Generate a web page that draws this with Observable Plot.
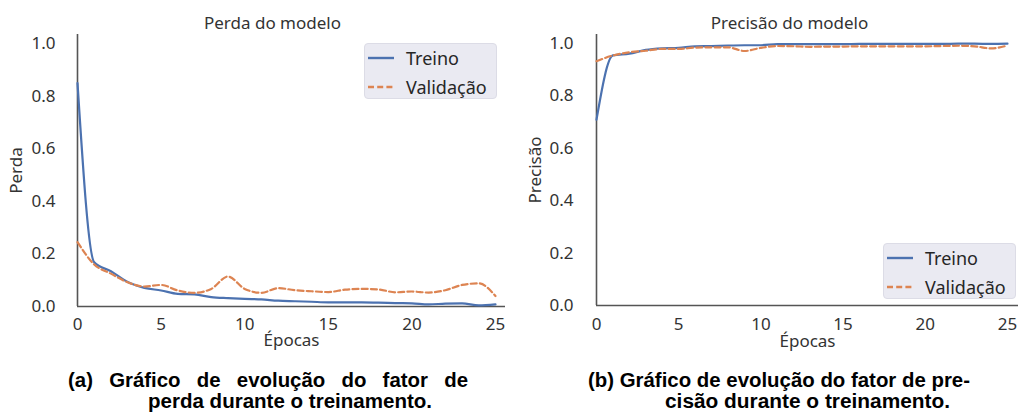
<!DOCTYPE html>
<html><head><meta charset="utf-8">
<script src="https://cdn.jsdelivr.net/npm/d3@7"></script>
<script src="https://cdn.jsdelivr.net/npm/@observablehq/plot@0.6"></script>
<style>
body{margin:0;background:#fff;}
#wrap{position:relative;width:1019px;height:412px;overflow:hidden;font-family:"Noto Sans",sans-serif;}
.panel{position:absolute;top:0;}
.legend{position:absolute;background:#eaeaf2;border:1px solid #dcdce6;border-radius:4px;box-sizing:border-box;width:133px;height:56px;}
.legend .row{position:absolute;left:3px;height:24px;display:flex;align-items:center;font-size:18px;color:#262626;}
.legend .row svg{margin-right:12px;}
#cap{position:absolute;left:0;top:0;}
</style></head>
<body><div id="wrap"></div>
<script>
// ---- data ----
const epochs = [0,1,2,3,4,5,6,7,8,9,10,11,12,13,14,15,16,17,18,19,20,21,22,23,24,25];
const lossTrain = [0.85,0.168,0.134,0.093,0.071,0.061,0.048,0.046,0.036,0.032,0.029,0.027,0.022,0.020,0.018,0.016,0.016,0.016,0.015,0.013,0.012,0.008,0.011,0.012,0.004,0.008];
const lossVal   = [0.245,0.160,0.125,0.092,0.076,0.082,0.061,0.052,0.067,0.114,0.067,0.052,0.070,0.062,0.058,0.055,0.064,0.067,0.065,0.054,0.057,0.053,0.062,0.082,0.088,0.040];
const accTrain  = [0.71,0.955,0.962,0.976,0.982,0.984,0.990,0.991,0.993,0.994,0.994,0.998,0.998,0.998,0.998,0.998,0.999,0.999,0.999,0.999,0.999,0.999,1.0,1.0,0.999,1.0];
const accVal    = [0.933,0.955,0.967,0.973,0.980,0.980,0.985,0.986,0.986,0.972,0.984,0.991,0.990,0.988,0.989,0.989,0.990,0.990,0.990,0.990,0.990,0.991,0.992,0.990,0.982,0.993];
const xTicks = [0,5,10,15,20,25];
const yTicks = [0,0.2,0.4,0.6,0.8,1.0];
const seriesNames = ["Treino","Validação"];
const titles = ["Perda do modelo","Precisão do modelo"];
const yLabels = ["Perda","Precisão"];
const xLabel = "Épocas";
const captions = [
  ["(a) Gráfico de evolução do fator de","perda durante o treinamento."],
  ["(b) Gráfico de evolução do fator de pre-","cisão durante o treinamento."]
];

const BLUE = "#4c72b0", ORANGE = "#dd8452";

function chart({title, ylabel, train, val, width, marginLeft, marginRight, marginBottom, xmax, tickPadX, tickPadY, titleDx, xLabelOffset}) {
  const rows = t => epochs.map((e,i)=>({e, v:t[i]}));
  return Plot.plot({
    width, height:360, marginLeft, marginRight, marginTop:34, marginBottom,
    style:{fontFamily:"Noto Sans", fontSize:"17px", color:"#333", background:"transparent", overflow:"visible"},
    x:{domain:[0,xmax]},
    y:{domain:[0,1.035]},
    marks:[
      Plot.axisX({ticks:xTicks, tickSize:0, tickPadding:tickPadX, tickFormat:d=>String(d), label:xLabel, labelAnchor:"center", labelArrow:"none", labelOffset:xLabelOffset, fontSize:17}),
      Plot.axisY({ticks:yTicks, tickSize:0, tickPadding:tickPadY, tickFormat:d=>d.toFixed(1), label:ylabel, labelAnchor:"center", labelArrow:"none", labelOffset:68, fontSize:17}),
      Plot.ruleX([0], {stroke:"#555", strokeWidth:1.6}),
      Plot.ruleY([0], {stroke:"#555", strokeWidth:1.6}),
      Plot.line(rows(train), {x:"e", y:"v", stroke:BLUE, strokeWidth:2.2, curve:"monotone-x"}),
      Plot.line(rows(val), {x:"e", y:"v", stroke:ORANGE, strokeWidth:2.2, strokeDasharray:"6,3.2", curve:"monotone-x"}),
      Plot.text([title], {text:d=>d, frameAnchor:"top", lineAnchor:"middle", dy:-11, dx:titleDx, fontSize:17, fill:"#333"})
    ]
  });
}

const wrap = document.getElementById("wrap");
const c1 = chart({title:titles[0], ylabel:yLabels[0], train:lossTrain, val:lossVal, width:510, marginLeft:77, marginRight:5, marginBottom:54, xmax:25.6, tickPadX:11, tickPadY:22, titleDx:-19, xLabelOffset:39});
c1.classList.add("panel"); c1.style.left = "0px";
wrap.appendChild(c1);
const c2 = chart({title:titles[1], ylabel:yLabels[1], train:accTrain, val:accVal, width:509, marginLeft:86, marginRight:1, marginBottom:55, xmax:25.67, tickPadX:12, tickPadY:23, titleDx:-18, xLabelOffset:41});
c2.classList.add("panel"); c2.style.left = "510px";
wrap.appendChild(c2);

function legend(left, top) {
  const d = document.createElement("div");
  d.className = "legend";
  d.style.left = left+"px"; d.style.top = top+"px";
  seriesNames.forEach((name,i)=>{
    const r = document.createElement("div");
    r.className = "row";
    r.style.top = (2 + i*29) + "px";
    const dash = i ? 'stroke-dasharray="6,3.2"' : '';
    r.innerHTML = `<svg width="26" height="6"><line x1="0" x2="26" y1="3" y2="3" stroke="${i?ORANGE:BLUE}" stroke-width="2.4" ${dash}/></svg><span>${name}</span>`;
    d.appendChild(r);
  });
  wrap.appendChild(d);
}
legend(364, 43);
legend(883, 243);

// captions
const svg = d3.select(wrap).append("svg").attr("id","cap").attr("width",1019).attr("height",412);
const FS = 19.5;
const ctx = document.createElement("canvas").getContext("2d");
ctx.font = `bold ${FS}px "Liberation Sans"`;
const k = (970-588)/ctx.measureText(captions[1][0]).width;
function line(str, x0, x1, y, justify) {
  const g = svg.append("g").attr("font-family","Liberation Sans, Arial, sans-serif").attr("font-weight","bold").attr("font-size",FS).attr("fill","#000");
  if (!justify) {
    g.append("text").attr("x",x0).attr("y",y).attr("textLength",x1-x0).attr("lengthAdjust","spacingAndGlyphs").text(str);
  } else {
    const words = str.split(" ");
    const w = words.map(s=>ctx.measureText(s).width*k);
    const gap = (x1-x0-d3.sum(w))/(words.length-1);
    let x = x0;
    words.forEach((s,i)=>{
      g.append("text").attr("x",x).attr("y",y).attr("textLength",w[i]).attr("lengthAdjust","spacingAndGlyphs").text(s);
      x += w[i]+gap;
    });
  }
}
line(captions[0][0], 68, 468, 386.5, true);
line(captions[0][1], 148, 432, 407.5, false);
line(captions[1][0], 588, 970, 386.5, false);
line(captions[1][1], 665, 950, 407.5, false);
</script>
</body></html>
